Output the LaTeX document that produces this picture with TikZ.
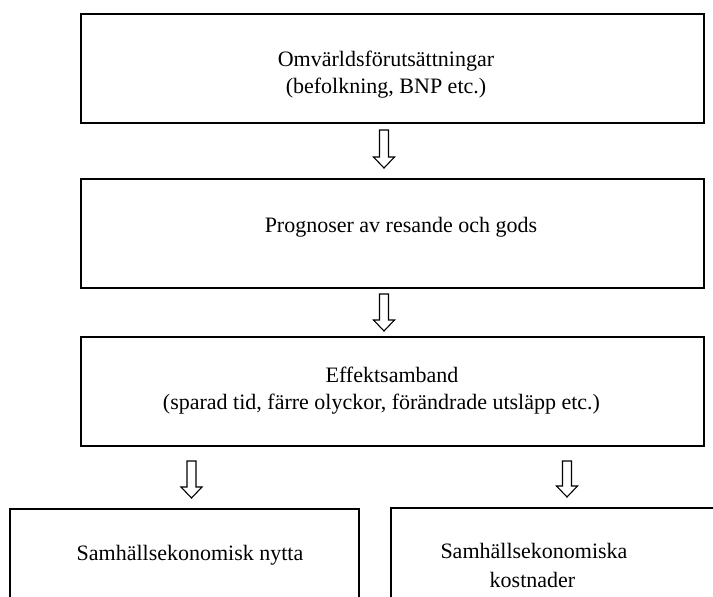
\documentclass[tikz,border=0pt]{standalone}
\usepackage{fontspec}
\setmainfont{Liberation Serif}
\usetikzlibrary{calc}
\tikzset{
  box/.style={draw, line width=1.3pt, rectangle, inner sep=0pt},
  txt/.style={anchor=base, inner sep=0pt, font=\fontsize{22}{27}\selectfont},
  blockarrow/.style={draw, line width=1.1pt, line join=miter,
    to path={let \p1=(\tikztostart), \p2=(\tikztotarget) in
      (\x1-4.5pt,\y1) -- (\x1+4.5pt,\y1) -- (\x1+4.5pt,\y2+11pt) -- (\x1+10.5pt,\y2+11pt)
      -- (\x2,\y2) -- (\x1-10.5pt,\y2+11pt) -- (\x1-4.5pt,\y2+11pt) -- cycle}}
}
\begin{document}
\begin{tikzpicture}[x=1pt,y=-1pt]
\useasboundingbox (0,0) rectangle (713,597);
\clip (0,0) rectangle (713,597);
\fill[white] (0,0) rectangle (713,597);

% boxes
\node[box, minimum width=623pt, minimum height=109pt] (b1) at (392.5,68.5) {};
\node[box, minimum width=623pt, minimum height=109pt] (b2) at (392.5,233.5) {};
\node[box, minimum width=623pt, minimum height=109pt] (b3) at (392.5,391.5) {};
\node[box, minimum width=349pt, minimum height=121pt] (b4) at (184.5,569.5) {};
\node[box, minimum width=360pt, minimum height=122pt] (b5) at (571,569) {};

% texts
\node[txt] (t1a) at (386,66) {Omvärldsförutsättningar};
\node[txt] (t1b) at (386,93) {(befolkning, BNP etc.)};
\node[txt] (t2) at (401,232) {Prognoser av resande och gods};
\node[txt] (t3a) at (392,382) {Effektsamband};
\node[txt] (t3b) at (381.5,409) {(sparad tid, färre olyckor, förändrade utsläpp etc.)};
\node[txt] (t4) at (190,560) {Samhällsekonomisk nytta};
\node[txt] (t5a) at (534,558) {Samhällsekonomiska};
\node[txt] (t5b) at (532.5,587) {kostnader};

% arrow end points
\coordinate (a1s) at (384,130);
\coordinate (a1e) at (384,168);
\coordinate (a2s) at (384,294);
\coordinate (a2e) at (384,331);
\coordinate (a3s) at (191.5,461);
\coordinate (a3e) at (191.5,498);
\coordinate (a4s) at (567,461);
\coordinate (a4e) at (567,497);

\draw[blockarrow] (a1s) to (a1e);
\draw[blockarrow] (a2s) to (a2e);
\draw[blockarrow] (a3s) to (a3e);
\draw[blockarrow] (a4s) to (a4e);
\end{tikzpicture}
\end{document}
